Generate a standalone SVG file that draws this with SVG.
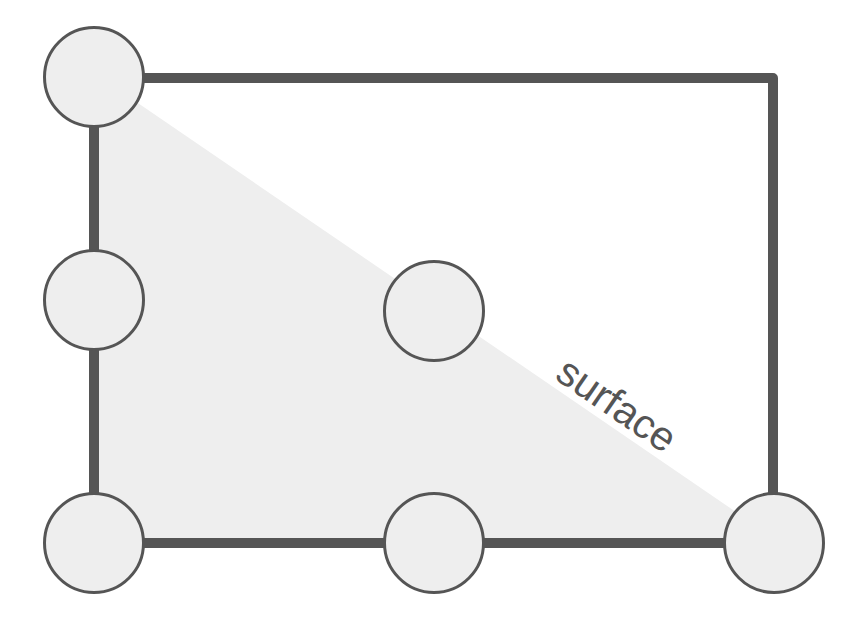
<svg xmlns="http://www.w3.org/2000/svg" width="850" height="639" viewBox="0 0 850 639">
<style>
.edge{fill:none;stroke:#555555;stroke-width:10;stroke-linejoin:round;stroke-linecap:butt}
.node{fill:#eeeeee;stroke:#555555;stroke-width:3}
.lbl{font-family:"Liberation Sans",Arial,sans-serif;font-size:41px;fill:#555555}
</style>
<rect width="850" height="639" fill="#ffffff"/>
<polygon id="surface" points="94,73 774,538 774,543 94,543" fill="#eeeeee"/>
<g id="connectors">
<path class="edge" d="M94,543 L94,78 L773,78 L773,543 L94,543"/>
</g>
<g id="n1"><circle class="node" cx="94" cy="77" r="49.5"/></g>
<g id="n2"><circle class="node" cx="94" cy="300" r="49.5"/></g>
<g id="n3"><circle class="node" cx="94" cy="543" r="49.5"/></g>
<g id="n4"><circle class="node" cx="434" cy="543" r="49.5"/></g>
<g id="n5"><circle class="node" cx="774" cy="543" r="49.5"/></g>
<g id="n6"><circle class="node" cx="434" cy="311" r="49.5"/></g>
<text class="lbl" text-anchor="middle" transform="translate(615,407.5) rotate(34.4)" x="0" y="10.5">surface</text>
</svg>
